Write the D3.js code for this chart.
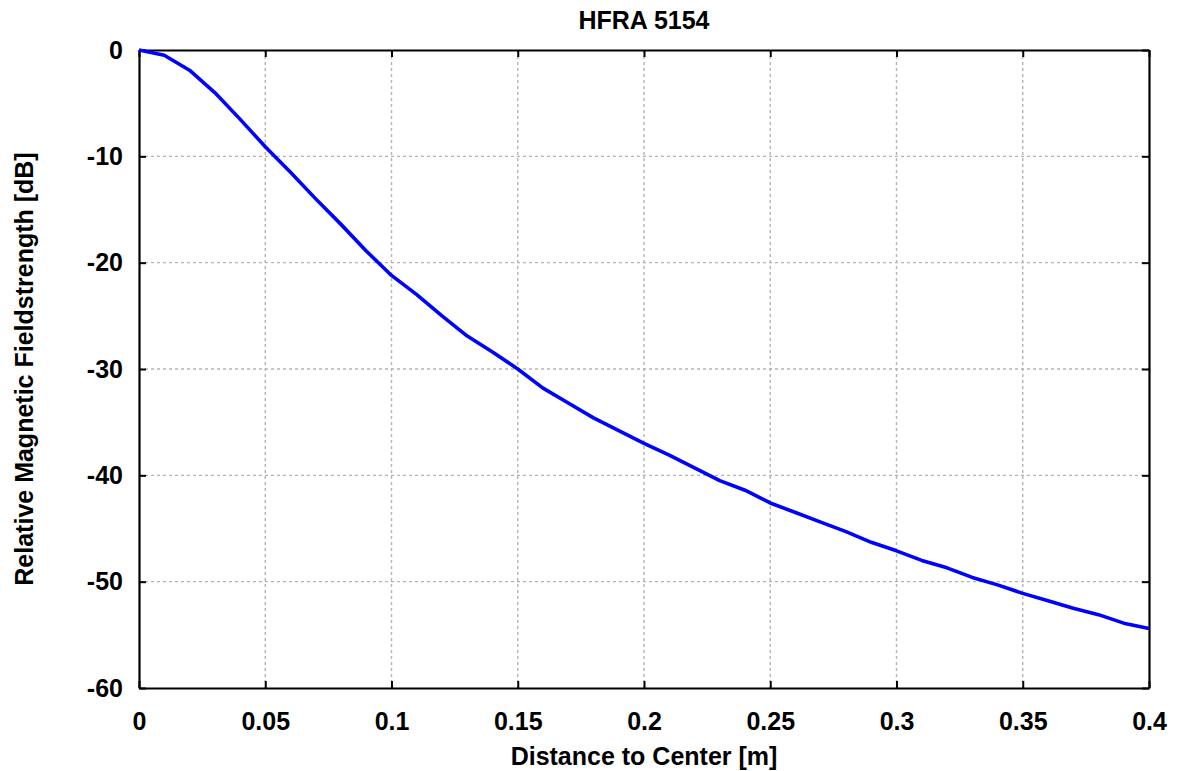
<!DOCTYPE html>
<html>
<head>
<meta charset="utf-8">
<script src="https://cdn.jsdelivr.net/npm/d3@7"></script>
<style>
  body{margin:0;background:#fff;}
  text{font-family:"Liberation Sans",Arial,sans-serif;font-weight:bold;}
</style>
</head>
<body>
<div class="canvas"></div>
<script>
// distance from center [m] and relative field strength [dB]
const distance=[0,0.01,0.02,0.03,0.04,0.05,0.06,0.07,0.08,0.09,0.10,
  0.11,0.12,0.13,0.14,0.15,0.16,0.17,0.18,0.19,0.20,
  0.21,0.22,0.23,0.24,0.25,0.26,0.27,0.28,0.29,0.30,
  0.31,0.32,0.33,0.34,0.35,0.36,0.37,0.38,0.39,0.40];
const fieldDb=[0,-0.5,-1.9,-4.0,-6.5,-9.1,-11.5,-14.0,-16.4,-18.9,-21.2,
  -23.0,-25.0,-26.9,-28.4,-30.0,-31.8,-33.2,-34.6,-35.8,-37.0,
  -38.1,-39.3,-40.5,-41.4,-42.6,-43.5,-44.4,-45.3,-46.3,-47.1,
  -48.0,-48.7,-49.6,-50.3,-51.1,-51.8,-52.5,-53.1,-53.9,-54.4];
const xTicks=[0,0.05,0.1,0.15,0.2,0.25,0.3,0.35,0.4];
const yTicks=[0,-10,-20,-30,-40,-50,-60];

const width=1177,height=771;
const margin={top:50,right:28,bottom:83,left:139};
const graphWidth=width-margin.left-margin.right;
const graphHeight=height-margin.top-margin.bottom;

const svg=d3.select('.canvas').append('svg')
    .attr('width',width)
    .attr('height',height);

const graph=svg.append('g')
    .attr('transform',`translate(${margin.left},${margin.top})`);

const x=d3.scaleLinear().domain([0,0.4]).range([0,graphWidth]);
const y=d3.scaleLinear().domain([-60,0]).range([graphHeight,0]);

//dotted grid
graph.append('g').selectAll('line.gx')
    .data(xTicks.slice(1,-1))
    .enter().append('line')
    .attr('x1',d=>x(d)).attr('x2',d=>x(d))
    .attr('y1',0).attr('y2',graphHeight)
    .attr('stroke','#b4b4b4').attr('stroke-width',1.4)
    .attr('stroke-dasharray','3,3');
graph.append('g').selectAll('line.gy')
    .data(yTicks.slice(1,-1))
    .enter().append('line')
    .attr('x1',0).attr('x2',graphWidth)
    .attr('y1',d=>y(d)).attr('y2',d=>y(d))
    .attr('stroke','#b4b4b4').attr('stroke-width',1.4)
    .attr('stroke-dasharray','3,3');

//axes with inward ticks on all sides
const tick=7;
const fmtX=d=>String(+d.toFixed(2));
const fmtY=d=>String(d); // plain hyphen, not unicode minus
const xAxis=d3.axisBottom(x).tickValues(xTicks).tickSizeInner(-tick).tickSizeOuter(0).tickPadding(24).tickFormat(fmtX);
const xTop=d3.axisTop(x).tickValues(xTicks).tickSizeInner(-tick).tickSizeOuter(0).tickFormat('');
const yAxis=d3.axisLeft(y).tickValues(yTicks).tickSizeInner(-tick).tickSizeOuter(0).tickPadding(16).tickFormat(fmtY);
const yRight=d3.axisRight(y).tickValues(yTicks).tickSizeInner(-tick).tickSizeOuter(0).tickFormat('');

const axes=[
  graph.append('g').attr('transform',`translate(0,${graphHeight})`).call(xAxis),
  graph.append('g').call(xTop),
  graph.append('g').call(yAxis),
  graph.append('g').attr('transform',`translate(${graphWidth},0)`).call(yRight)
];
axes.forEach(g=>{
  g.select('.domain').attr('stroke','#000').attr('stroke-width',2.2);
  g.selectAll('.tick line').attr('stroke','#000').attr('stroke-width',2);
  g.selectAll('.tick text')
    .attr('fill','#000')
    .style('font-size','25px')
    .style('font-family','"Liberation Sans",Arial,sans-serif')
    .style('font-weight','bold');
});

//data line
const line=d3.line()
    .x((d,i)=>x(distance[i]))
    .y(d=>y(d));
graph.append('path')
    .datum(fieldDb)
    .attr('d',line)
    .attr('fill','none')
    .attr('stroke','#0000ff')
    .attr('stroke-width',3.6)
    .attr('stroke-linejoin','round');

//title and axis labels
svg.append('text')
    .attr('x',margin.left+graphWidth/2).attr('y',29)
    .attr('text-anchor','middle').style('font-size','25px')
    .text('HFRA 5154');
svg.append('text')
    .attr('x',margin.left+graphWidth/2).attr('y',765)
    .attr('text-anchor','middle').style('font-size','25px')
    .text('Distance to Center [m]');
svg.append('text')
    .attr('transform',`translate(33,${margin.top+graphHeight/2}) rotate(-90)`)
    .attr('text-anchor','middle').style('font-size','25px')
    .text('Relative Magnetic Fieldstrength [dB]');
</script>
</body>
</html>
